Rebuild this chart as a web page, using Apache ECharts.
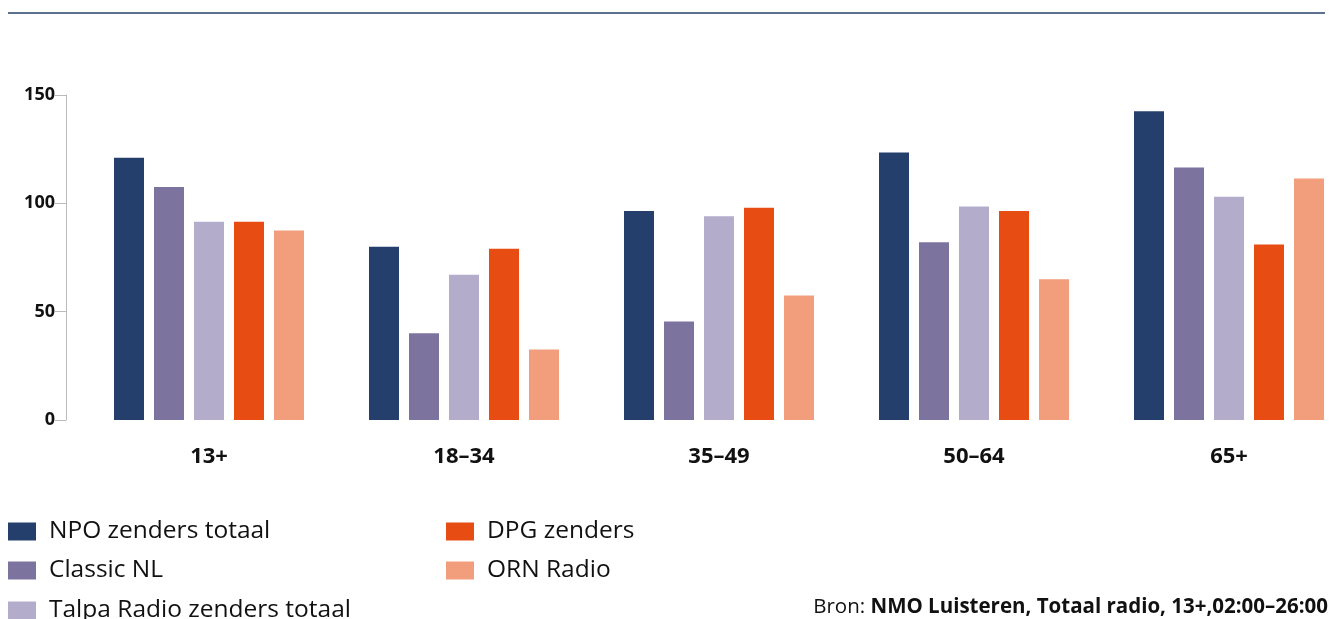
<!DOCTYPE html>
<html><head><meta charset="utf-8">
<script src="https://cdn.jsdelivr.net/npm/echarts@6/dist/echarts.min.js"></script>
<style>html,body{margin:0;padding:0;background:#fff}#c{width:1333px;height:619px}</style>
</head><body><div id="c"></div>
<script>
const categories = ['13+', '18–34', '35–49', '50–64', '65+'];
const seriesNames = ['NPO zenders totaal', 'Classic NL', 'Talpa Radio zenders totaal', 'DPG zenders', 'ORN Radio'];
const npo = [121, 80, 96.5, 123.5, 142.5];
const classic = [107.5, 40, 45.5, 82, 116.5];
const talpa = [91.5, 67, 94, 98.5, 103];
const dpg = [91.5, 79, 98, 96.5, 81];
const orn = [87.5, 32.5, 57.5, 65, 111.5];
const yTicks = [0, 50, 100, 150];
const colors = ['#243f6b', '#7d739f', '#b3adcb', '#e74c12', '#f29d7c'];
const values = [npo, classic, talpa, dpg, orn];

const FONT = '"Open Sans"';
const legendPos = [[8, 519], [8, 558], [8, 598], [446, 519], [446, 558]];
const chart = echarts.init(document.getElementById('c'), null, {renderer: 'canvas'});
chart.setOption({
  animation: false,
  textStyle: {fontFamily: FONT},
  grid: {left: 81.5, width: 1275, top: 95, bottom: 199, outerBoundsMode: 'none', containLabel: false},
  xAxis: {
    type: 'category', data: categories,
    axisLine: {show: false}, axisTick: {show: false},
    axisLabel: {fontSize: 22, fontWeight: 'bold', color: '#111', margin: 26, fontFamily: FONT}
  },
  yAxis: {
    type: 'value', min: yTicks[0], max: yTicks[yTicks.length - 1], interval: 50,
    offset: 15.5,
    axisLine: {show: true, lineStyle: {color: '#bbbbbb', width: 1}},
    axisTick: {show: true, length: 11, lineStyle: {color: '#bbbbbb'}},
    splitLine: {show: false},
    axisLabel: {fontSize: 18, fontWeight: 'bold', color: '#111', margin: 11, fontFamily: FONT}
  },
  legend: seriesNames.map((n, i) => ({
    left: legendPos[i][0], top: legendPos[i][1], padding: 0,
    itemWidth: 28, itemHeight: 18, icon: 'rect', data: [n],
    textStyle: {fontSize: 24.5, lineHeight: 18, color: '#111', padding: [0, 0, 0, 8], fontFamily: FONT}
  })),
  graphic: [
    {type: 'line', shape: {x1: 8, y1: 13, x2: 1325, y2: 13}, style: {stroke: '#5d7090', lineWidth: 2}},
    {type: 'text', right: 5, top: 597, style: {
      text: 'Bron: {b|NMO Luisteren, Totaal radio, 13+,02:00–26:00}',
      font: '20.5px ' + FONT, fill: '#111',
      rich: {b: {fontWeight: 'bold', fontSize: 20.5, fontFamily: FONT, fill: '#111'}}
    }}
  ],
  series: seriesNames.map((n, i) => ({
    name: n, type: 'bar', data: values[i], barWidth: 30, barGap: '33.33%',
    itemStyle: {color: colors[i]}
  }))
});
</script></body></html>
